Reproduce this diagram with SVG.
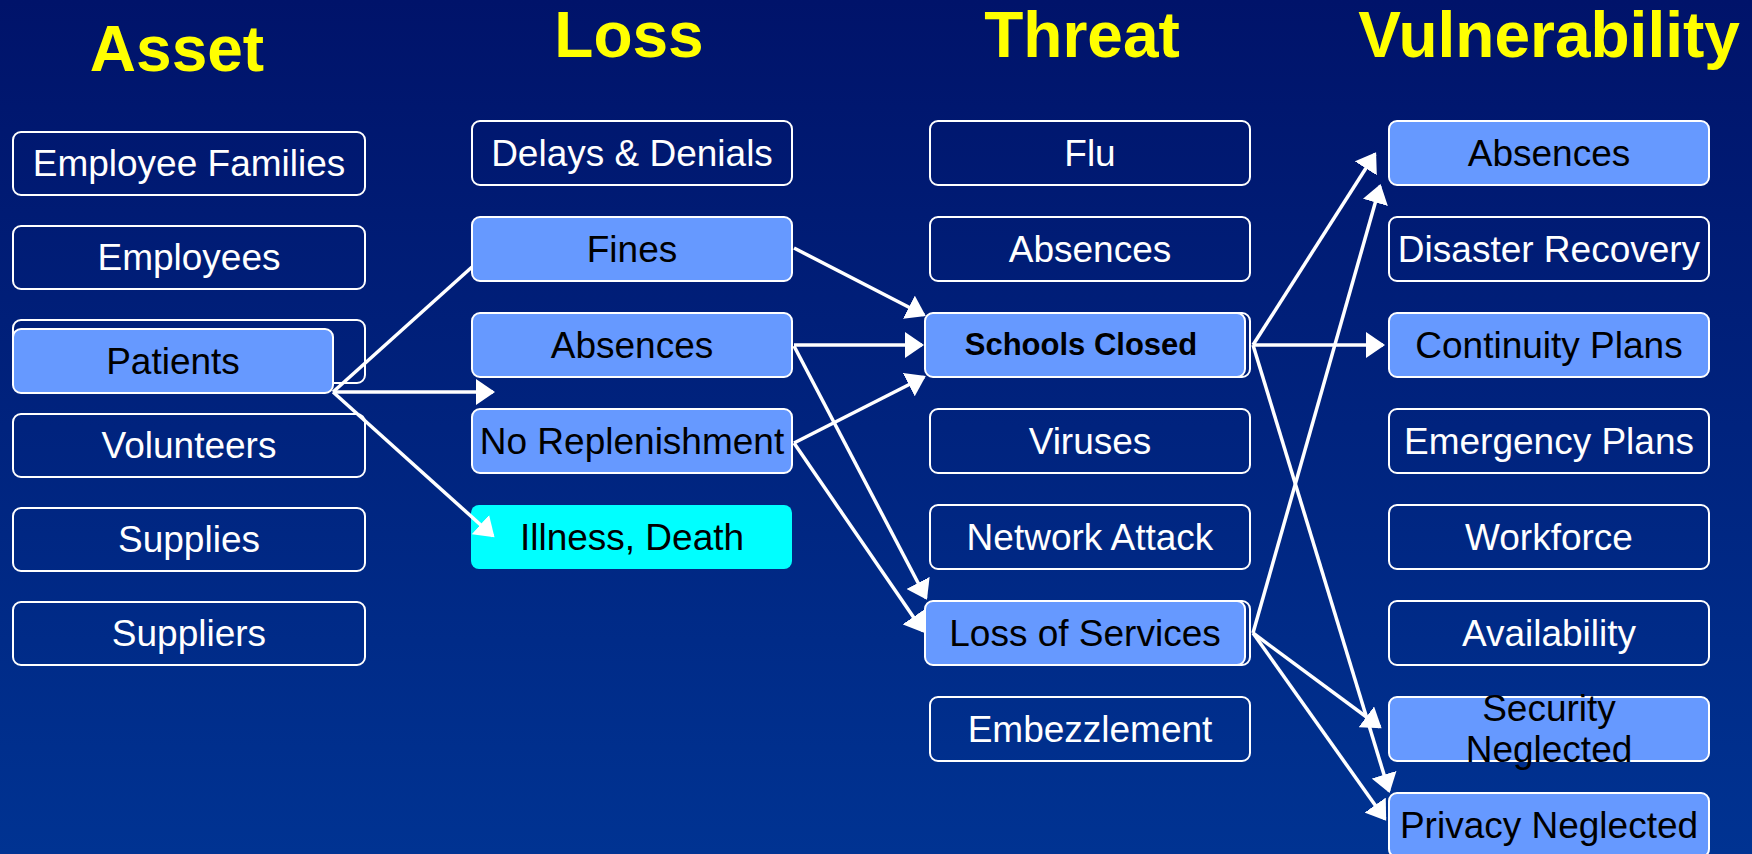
<svg xmlns="http://www.w3.org/2000/svg" width="1752" height="854" viewBox="0 0 1752 854">
<defs>
<linearGradient id="bg" x1="0" y1="0" x2="0" y2="1">
<stop offset="0" stop-color="#00136A"/>
<stop offset="1" stop-color="#003392"/>
</linearGradient>
<marker id="ah" markerUnits="userSpaceOnUse" markerWidth="20" markerHeight="26" viewBox="0 0 20 26" refX="17" refY="13" orient="auto">
<path d="M0,0 L19,13 L0,26 Z" fill="#FFFFFF"/>
</marker>
<style>
.dk{fill:none;stroke:#FFFFFF;stroke-width:2}
.bl{fill:#6699FF;stroke:#FFFFFF;stroke-width:2}
.cy{fill:#00FFFF;stroke:none}
.hd{font-family:"Liberation Sans",Arial,sans-serif;font-weight:bold;font-size:64px;fill:#FFFF00;text-anchor:middle}
.tw{font-family:"Liberation Sans",Arial,sans-serif;font-size:37px;fill:#FFFFFF;text-anchor:middle}
.tb{font-family:"Liberation Sans",Arial,sans-serif;font-size:37px;fill:#000000;text-anchor:middle}
.tbb{font-family:"Liberation Sans",Arial,sans-serif;font-size:31px;font-weight:bold;fill:#000000;text-anchor:middle}
.cn line{stroke:#FFFFFF;stroke-width:3.5;marker-end:url(#ah)}
.cn line.nm{marker-end:none}
</style>
</defs>
<rect x="0" y="0" width="1752" height="854" fill="url(#bg)"/>

<g id="headers">
<text class="hd" x="177" y="71">Asset</text>
<text class="hd" x="629" y="57">Loss</text>
<text class="hd" x="1082" y="57">Threat</text>
<text class="hd" x="1549" y="57">Vulnerability</text>
</g>

<!-- Asset column -->
<g id="asset-employee-families"><rect class="dk" x="13" y="132" width="352" height="63" rx="8"/><text class="tw" x="189" y="176">Employee Families</text></g>
<g id="asset-employees"><rect class="dk" x="13" y="226" width="352" height="63" rx="8"/><text class="tw" x="189" y="270">Employees</text></g>
<g id="asset-hidden"><rect class="dk" x="13" y="320" width="352" height="63" rx="8"/></g>
<g id="asset-patients"><rect class="bl" x="13" y="329" width="320" height="64" rx="8"/><text class="tb" x="173" y="374">Patients</text></g>
<g id="asset-volunteers"><rect class="dk" x="13" y="414" width="352" height="63" rx="8"/><text class="tw" x="189" y="458">Volunteers</text></g>
<g id="asset-supplies"><rect class="dk" x="13" y="508" width="352" height="63" rx="8"/><text class="tw" x="189" y="552">Supplies</text></g>
<g id="asset-suppliers"><rect class="dk" x="13" y="602" width="352" height="63" rx="8"/><text class="tw" x="189" y="646">Suppliers</text></g>

<!-- Loss column -->
<g id="loss-delays"><rect class="dk" x="472" y="121" width="320" height="64" rx="8"/><text class="tw" x="632" y="166">Delays &amp; Denials</text></g>
<g id="loss-fines"><rect class="bl" x="472" y="217" width="320" height="64" rx="8"/><text class="tb" x="632" y="262">Fines</text></g>
<g id="loss-absences"><rect class="bl" x="472" y="313" width="320" height="64" rx="8"/><text class="tb" x="632" y="358">Absences</text></g>
<g id="loss-no-replenishment"><rect class="bl" x="472" y="409" width="320" height="64" rx="8"/><text class="tb" x="632" y="454">No Replenishment</text></g>
<g id="loss-illness"><rect class="cy" x="471" y="505" width="321" height="64" rx="8"/><text class="tb" x="632" y="550">Illness, Death</text></g>

<!-- Threat column -->
<g id="threat-flu"><rect class="dk" x="930" y="121" width="320" height="64" rx="8"/><text class="tw" x="1090" y="166">Flu</text></g>
<g id="threat-absences"><rect class="dk" x="930" y="217" width="320" height="64" rx="8"/><text class="tw" x="1090" y="262">Absences</text></g>
<g id="threat-schools-closed"><rect class="dk" x="930" y="313" width="320" height="64" rx="8"/><rect class="bl" x="925" y="313" width="320" height="64" rx="8"/><text class="tbb" x="1081" y="355">Schools Closed</text></g>
<g id="threat-viruses"><rect class="dk" x="930" y="409" width="320" height="64" rx="8"/><text class="tw" x="1090" y="454">Viruses</text></g>
<g id="threat-network-attack"><rect class="dk" x="930" y="505" width="320" height="64" rx="8"/><text class="tw" x="1090" y="550">Network Attack</text></g>
<g id="threat-loss-of-services"><rect class="dk" x="930" y="601" width="320" height="64" rx="8"/><rect class="bl" x="925" y="601" width="320" height="64" rx="8"/><text class="tb" x="1085" y="646">Loss of Services</text></g>
<g id="threat-embezzlement"><rect class="dk" x="930" y="697" width="320" height="64" rx="8"/><text class="tw" x="1090" y="742">Embezzlement</text></g>

<!-- Vulnerability column -->
<g id="vuln-absences"><rect class="bl" x="1389" y="121" width="320" height="64" rx="8"/><text class="tb" x="1549" y="166">Absences</text></g>
<g id="vuln-disaster-recovery"><rect class="dk" x="1389" y="217" width="320" height="64" rx="8"/><text class="tw" x="1549" y="262">Disaster Recovery</text></g>
<g id="vuln-continuity-plans"><rect class="bl" x="1389" y="313" width="320" height="64" rx="8"/><text class="tb" x="1549" y="358">Continuity Plans</text></g>
<g id="vuln-emergency-plans"><rect class="dk" x="1389" y="409" width="320" height="64" rx="8"/><text class="tw" x="1549" y="454">Emergency Plans</text></g>
<g id="vuln-workforce"><rect class="dk" x="1389" y="505" width="320" height="64" rx="8"/><text class="tw" x="1549" y="550">Workforce</text></g>
<g id="vuln-availability"><rect class="dk" x="1389" y="601" width="320" height="64" rx="8"/><text class="tw" x="1549" y="646">Availability</text></g>
<g id="vuln-security-neglected"><rect class="bl" x="1389" y="697" width="320" height="64" rx="8"/><text class="tb" x="1549" y="721">Security</text><text class="tb" x="1549" y="762">Neglected</text></g>
<g id="vuln-privacy-neglected"><rect class="bl" x="1389" y="793" width="320" height="64" rx="8"/><text class="tb" x="1549" y="838">Privacy Neglected</text></g>

<g id="connectors" class="cn">
<line class="nm" x1="333" y1="392" x2="472" y2="267"/>
<line x1="333" y1="392" x2="493" y2="392"/>
<line x1="333" y1="392" x2="493" y2="536"/>
<line x1="794" y1="248" x2="924" y2="315"/>
<line x1="794" y1="345" x2="922" y2="345"/>
<line x1="794" y1="346" x2="926" y2="598"/>
<line x1="794" y1="443" x2="924" y2="377"/>
<line x1="794" y1="443" x2="923" y2="631"/>
<line x1="1253" y1="345" x2="1375" y2="154"/>
<line x1="1253" y1="345" x2="1383" y2="345"/>
<line x1="1253" y1="345" x2="1389" y2="791"/>
<line x1="1253" y1="633" x2="1380" y2="186"/>
<line x1="1253" y1="633" x2="1380" y2="727"/>
<line x1="1253" y1="633" x2="1385" y2="819"/>
</g>
</svg>
